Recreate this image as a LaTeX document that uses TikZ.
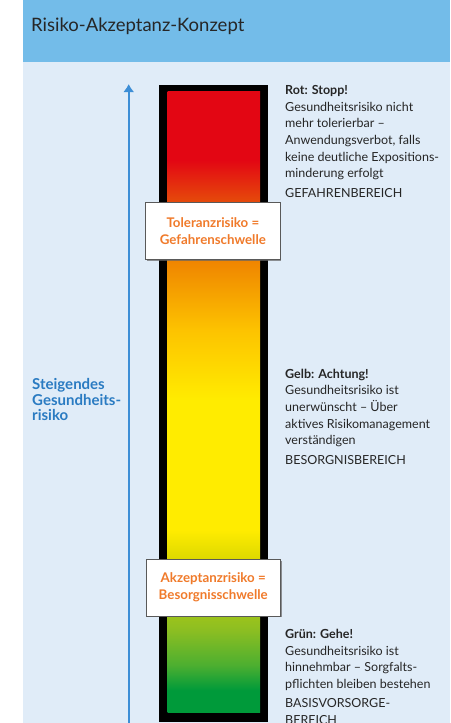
\documentclass[tikz,border=0pt]{standalone}
\usepackage{fontspec}
\setmainfont{Lato}
\usetikzlibrary{arrows.meta, shadows}
\definecolor{headblue}{HTML}{73BCE9}
\definecolor{paleblue}{HTML}{E0ECF8}
\definecolor{arrowblue}{HTML}{3D8ED6}
\definecolor{labelblue}{HTML}{2A7BC2}
\definecolor{warnorange}{HTML}{F07A2A}
\definecolor{riskred}{HTML}{E30613}
\definecolor{riskredorange}{HTML}{E5470B}
\definecolor{riskorange}{HTML}{EF8400}
\definecolor{riskamber}{HTML}{FDC300}
\definecolor{riskyellow}{HTML}{FFEC00}
\definecolor{riskolive}{HTML}{DCD800}
\definecolor{risklime}{HTML}{8CBE22}
\definecolor{riskleaf}{HTML}{4DAF30}
\definecolor{riskgreen}{HTML}{009A3A}
% path box is mapped onto 25bp..75bp
\pgfdeclareverticalshading{riskscale}{100bp}{color(0bp)=(riskgreen); color(25bp)=(riskgreen);
  color(26.8bp)=(riskgreen); color(28.85bp)=(riskleaf); color(31.65bp)=(risklime);
  color(37.3bp)=(riskolive); color(39.7bp)=(riskyellow); color(50.15bp)=(riskyellow);
  color(55.8bp)=(riskamber); color(61.45bp)=(riskorange); color(66.3bp)=(riskredorange);
  color(69.5bp)=(riskred); color(75bp)=(riskred); color(100bp)=(riskred)}

\begin{document}
\begin{tikzpicture}[x=1pt, y=-1pt,
    zonetext/.style={anchor=base west, inner sep=0pt, align=left, text=black!85,
      font=\fontsize{12.5}{16.7}\selectfont},
    axislabel/.style={anchor=base west, inner sep=0pt, align=left, text=labelblue,
      font=\fontsize{15}{15.5}\selectfont\bfseries},
    limitbox/.style={draw=black!65, line width=0.8pt, fill=white, minimum width=134.5,
      minimum height=56.6, inner sep=0pt, align=center, text=warnorange,
      font=\fontsize{13.3}{17}\selectfont\bfseries,
      drop shadow={shadow xshift=1.2pt, shadow yshift=-1.2pt, opacity=0.7, fill=black!60}},
    riskarrow/.style={draw=arrowblue, line width=1.6pt, -{Latex[width=11pt, length=8pt]}}]
    \useasboundingbox (0,0) rectangle (450,723);

    % Background
    \fill[paleblue] (23,62) rectangle (450,723);
    \fill[headblue] (23,0) rectangle (450,62);
    \node[anchor=base west, inner sep=0pt, font=\fontsize{18.5}{20}\selectfont, text=black!85]
      (title) at (31,31.7) {Risiko-Akzeptanz-Konzept};

    % Axis
    \coordinate (arrowfoot) at (128.7,723);
    \coordinate (arrowtip) at (128.7,84);
    \draw[riskarrow] (arrowfoot) -- (arrowtip);
    % base = last line
    \node[axislabel] (axis) at (32,420.5) {Steigendes\\Gesundheits-\\risiko};

    % Bar
    \fill[black] (159.3,85) rectangle (268.3,722);
    \shade[shading=riskscale] (167.7,91.7) rectangle (260,712.7);

    % Thresholds
    \node[limitbox] (toleranz) at (212.9,231) {Toleranzrisiko =\\Gefahrenschwelle};
    \node[limitbox] (akzeptanz) at (213.2,587.7) {Akzeptanzrisiko =\\Besorgnisschwelle};

    % Zones (base = last line)
    \node[zonetext] (rot) at (285,197) {\textbf{Rot: Stopp!}\\Gesundheitsrisiko nicht\\mehr tolerierbar --\\Anwendungsverbot, falls\\keine deutliche Expositions-\\minderung erfolgt\\[2.5pt]GEFAHRENBEREICH};
    \node[zonetext] (gelb) at (285,464) {\textbf{Gelb: Achtung!}\\Gesundheitsrisiko ist\\unerwünscht -- Über\\aktives Risikomanagement\\verständigen\\[2.5pt]BESORGNISBEREICH};
    \node[zonetext] (gruen) at (285,724.5) {\textbf{Grün: Gehe!}\\Gesundheitsrisiko ist\\hinnehmbar -- Sorgfalts-\\pflichten bleiben bestehen\\[2.5pt]BASISVORSORGE-\\BEREICH};
\end{tikzpicture}
\end{document}
